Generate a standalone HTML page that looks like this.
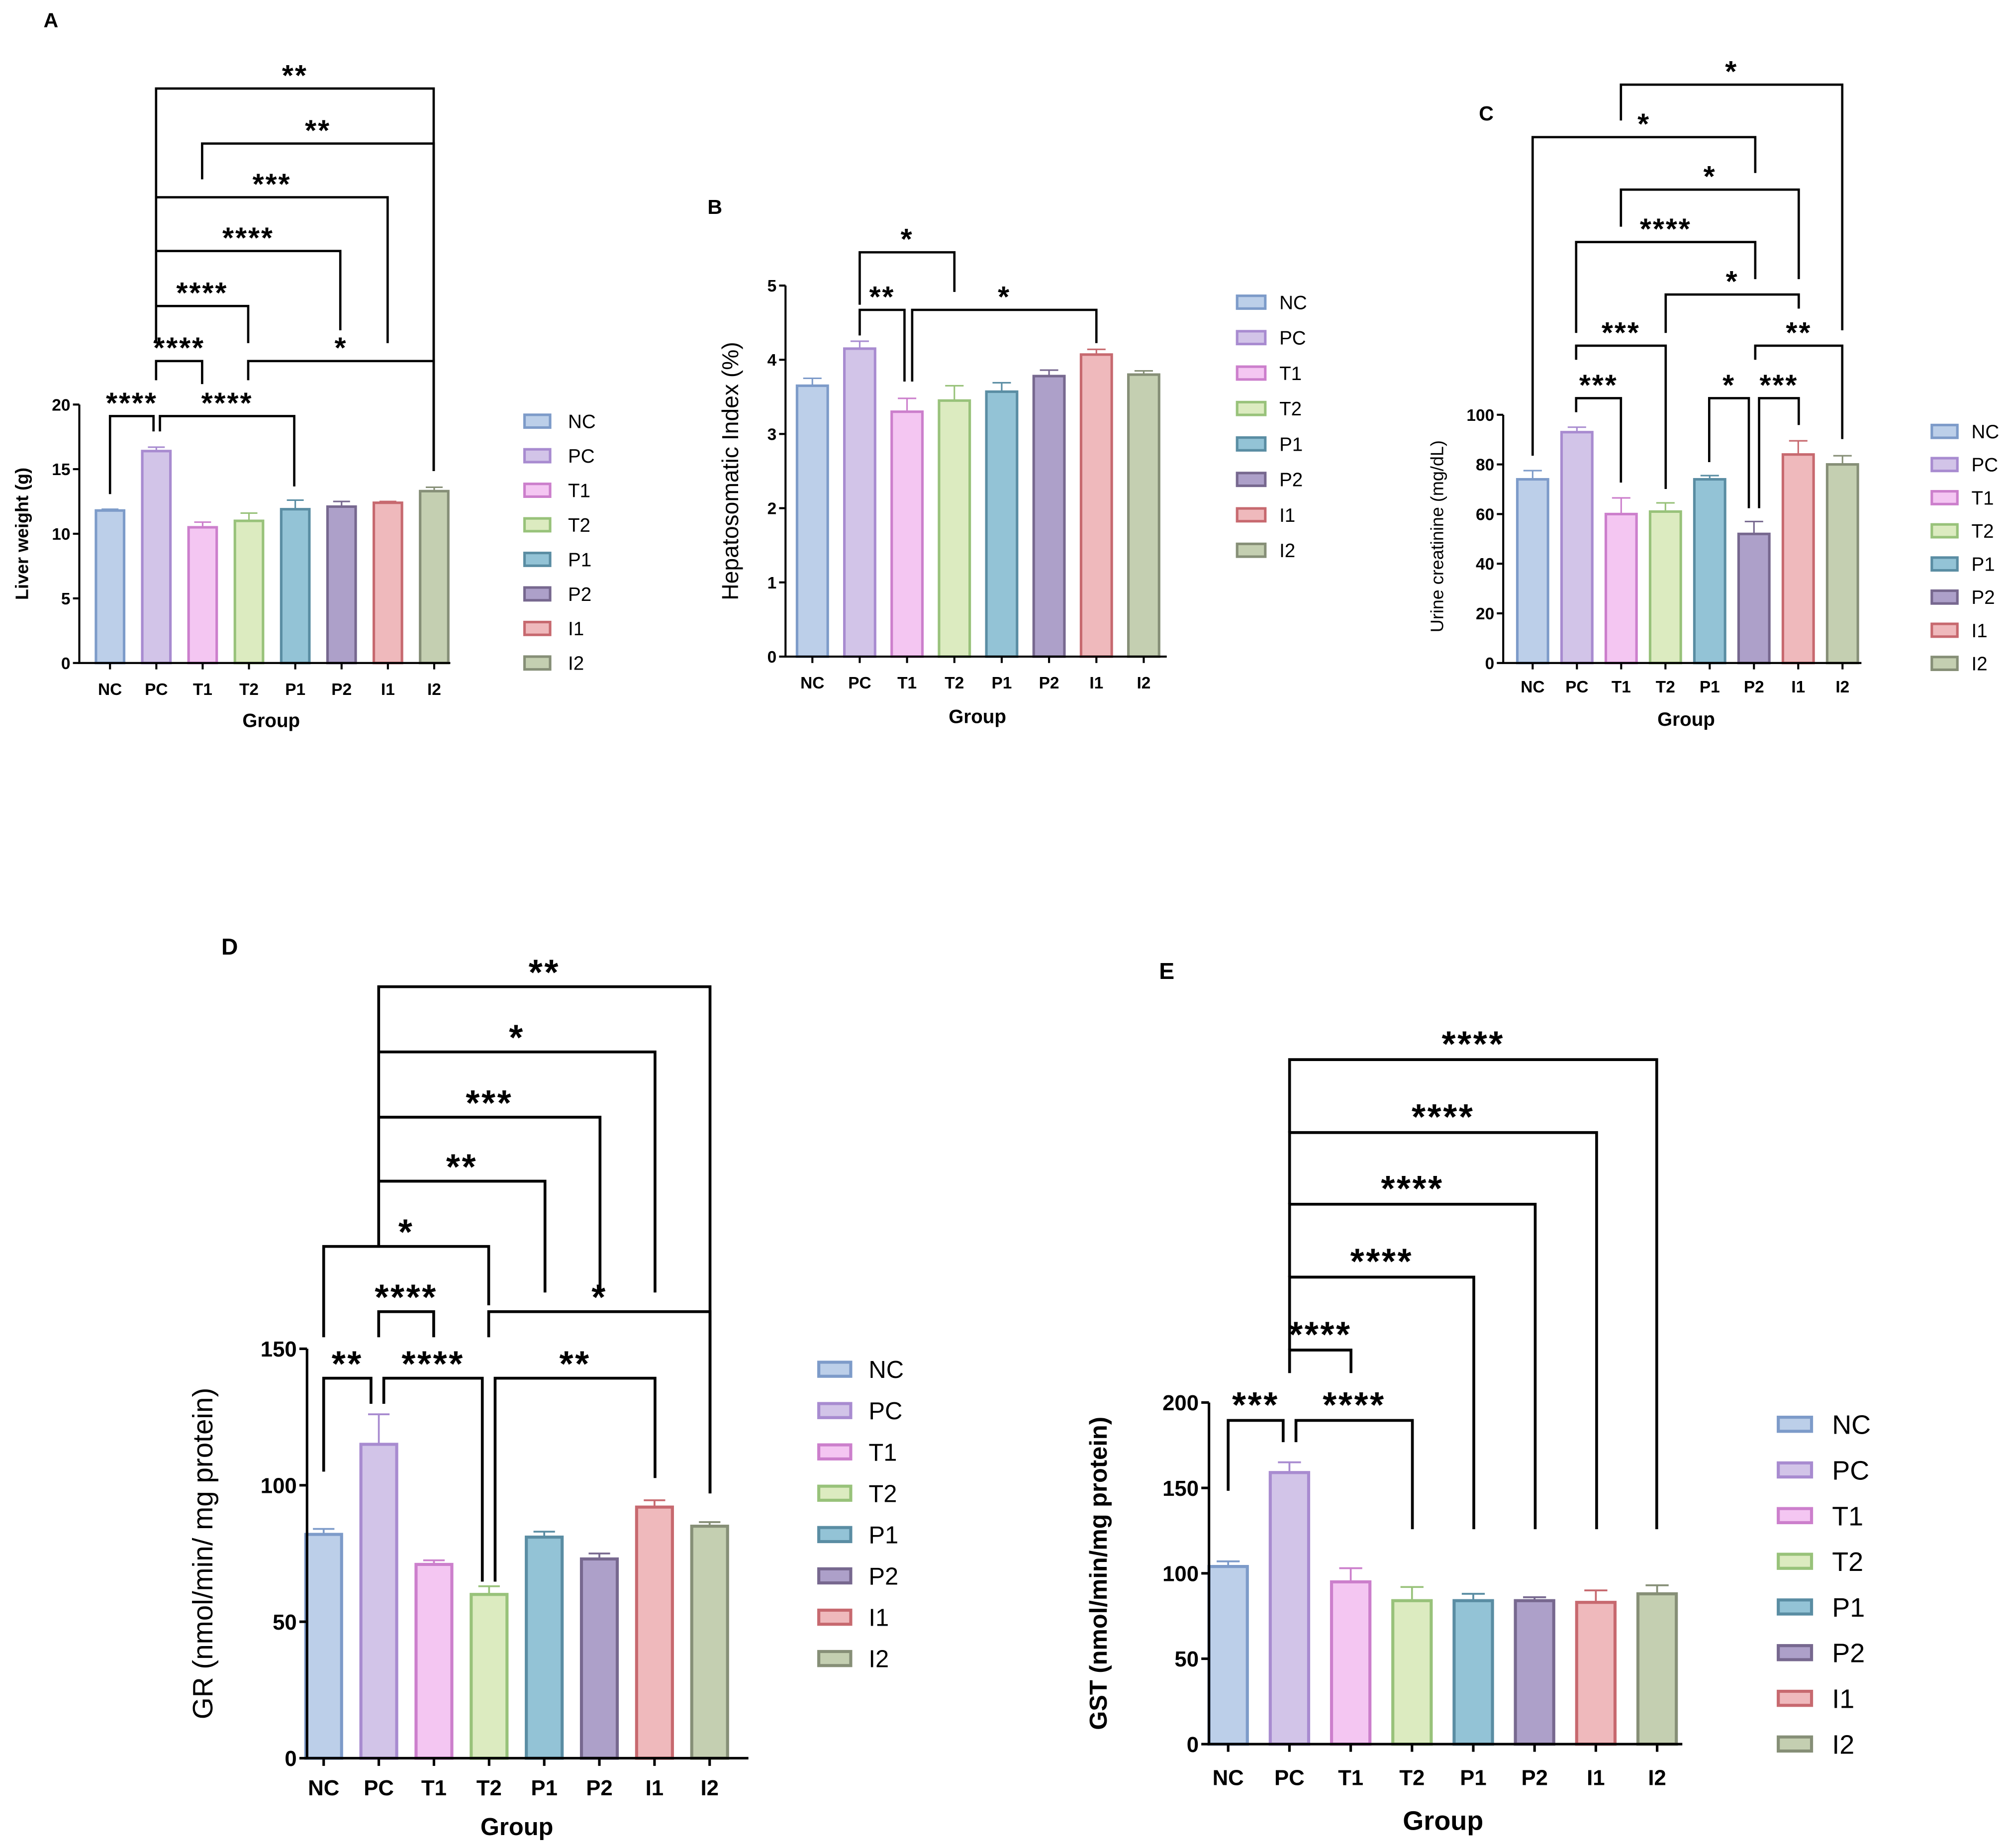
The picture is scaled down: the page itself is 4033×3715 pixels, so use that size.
<!DOCTYPE html>
<html><head><meta charset="utf-8"><style>
html,body{margin:0;padding:0;background:#fff}
svg{display:block}
text{font-family:"Liberation Sans",sans-serif;fill:#000}
</style></head><body>
<svg id="fig" xmlns="http://www.w3.org/2000/svg" width="4033" height="3715" viewBox="0 0 1568 1444"></svg>
<script>
const categories=["NC","PC","T1","T2","P1","P2","I1","I2"];
const fills=["#bccfe9","#d2c4e8","#f4c6f2","#dcebc0","#93c3d6","#ada0c9","#efb9bc","#c4cfb1"];
const strokes=["#7d9bc9","#a88bd0","#cc7fcc","#98c27a","#5a8da3","#77688f","#c7696f","#868f77"];
const aValues=[11.8,16.4,10.5,11.0,11.9,12.1,12.4,13.3];
const aErrors=[0.1,0.3,0.4,0.6,0.7,0.4,0.1,0.3];
const aTicks=[0,5,10,15,20];
const bValues=[3.65,4.15,3.3,3.45,3.57,3.78,4.07,3.8];
const bErrors=[0.1,0.1,0.18,0.2,0.12,0.08,0.07,0.05];
const bTicks=[0,1,2,3,4,5];
const cValues=[74,93,60,61,74,52,84,80];
const cErrors=[3.5,2,6.5,3.5,1.5,5,5.5,3.5];
const cTicks=[0,20,40,60,80,100];
const dValues=[82,115,71,60,81,73,92,85];
const dErrors=[2,11,1.5,3,2,2,2.5,1.5];
const dTicks=[0,50,100,150];
const eValues=[104,159,95,84,84,84,83,88];
const eErrors=[3,6,8,8,4,2,7,5];
const eTicks=[0,50,100,150,200];

const NS="http://www.w3.org/2000/svg";
const svg=document.getElementById('fig');
function mk(tag,attrs,parent,txt){const e=document.createElementNS(NS,tag);for(const k in attrs)e.setAttribute(k,attrs[k]);if(txt!==undefined)e.textContent=txt;(parent||svg).appendChild(e);return e;}

function panel(p){
  const g=mk('g',{});
  
  
  const ymax=p.ticks[p.ticks.length-1];
  const ys=v=>p.y0-(v/ymax)*(p.y0-p.yTop);
  const xs=i=>p.x1+i*p.step;
  const pl=mk('text',{x:p.lx,y:p.ly,'font-size':p.fsL,'font-weight':'bold'},g,p.id);
  
  
  p.values.forEach((v,i)=>{
    const x=xs(i),w=p.bw;
    const eb=mk('path',{d:`M${x} ${ys(v)}V${ys(v+p.errors[i])}M${x-w*0.3} ${ys(v+p.errors[i])}H${x+w*0.3}`,stroke:strokes[i],'stroke-width':p.sw*0.6,fill:'none'},g);
    
    
    const r=mk('rect',{x:x-w/2,y:ys(v),width:w,height:p.y0-ys(v),fill:fills[i],stroke:strokes[i],'stroke-width':p.sw},g);
    
    
  });
  const ax=mk('path',{d:`M${p.ax} ${p.yTop}V${p.y0}H${p.axR}`,stroke:'#000','stroke-width':p.aw,fill:'none'},g);
  
  
  p.ticks.forEach(t=>{
    mk('line',{x1:p.ax-p.tl,x2:p.ax,y1:ys(t),y2:ys(t),stroke:'#000','stroke-width':p.aw},g);
    const tt=mk('text',{x:p.ax-p.tl-2,y:ys(t)+p.fsT*0.36,'font-size':p.fsT,'text-anchor':'end','font-weight':'bold'},g,t);
    
    
  });
  categories.forEach((c,i)=>{
    mk('line',{x1:xs(i),x2:xs(i),y1:p.y0,y2:p.y0+p.tl,stroke:'#000','stroke-width':p.aw},g);
    const tt=mk('text',{x:xs(i),y:p.xly,'font-size':p.fsX,'text-anchor':'middle','font-weight':'bold'},g,c);
    
    
  });
  const xt=mk('text',{x:p.gx,y:p.gy,'font-size':p.fsG,'text-anchor':'middle','font-weight':'bold'},g,'Group');
  
  
  const yc=(p.y0+p.yTop)/2+p.yto;
  const yt=mk('text',{x:p.ytx,y:yc,'font-size':p.fsY,'text-anchor':'middle','font-weight':p.ytBold?'bold':'normal',transform:`rotate(-90 ${p.ytx} ${yc})`},g,p.ytitle);
  
  
  categories.forEach((c,i)=>{
    const y=p.legY+i*p.legStep;
    const lr=mk('rect',{x:p.legX,y:y-p.legH/2,width:p.legW,height:p.legH,fill:fills[i],stroke:strokes[i],'stroke-width':p.sw},g);
    
    
    const lt=mk('text',{x:p.legX+p.legW+p.legGap,y:y+p.fsLeg*0.36,'font-size':p.fsLeg},g,c);
    
    
  });
  p.br.forEach(b=>{
    const [x1,x2,y,yb1,yb2,lab]=b;
    const pa=mk('path',{d:`M${x1} ${yb1}V${y}H${x2}V${yb2}`,stroke:'#000','stroke-width':p.bsw,fill:'none'},g);
    
    
    const st=mk('text',{x:(x1+x2)/2,y:y-p.sOff+p.fsS*0.55,'font-size':p.fsS,'text-anchor':'middle','font-weight':'bold','letter-spacing':p.fsS*0.05},g,lab);
    
    
  });
}

panel({id:'A',lx:34,ly:21,fsL:16,values:aValues,errors:aErrors,ticks:aTicks,y0:518,yTop:316,x1:86,step:36.2,bw:22,sw:2,ax:62,axR:352,aw:1.6,tl:5,fsT:13,fsX:13,xly:543,gx:212,gy:568,fsG:15,ytitle:'Liver weight (g)',ytx:22,yto:0,fsY:14,ytBold:true,
 legX:410,legY:329,legStep:27,legW:20,legH:10,legGap:14,fsLeg:15,bsw:1.8,fsS:23,sOff:15,
 br:[[86,120,325,386,337,'****'],[125,230,325,337,380,'****'],[122,158,282,297,300,'****'],[194,339,282,297,368,'*'],[122,194,239,268,268,'****'],[122,266,196,239,258,'****'],[122,303,154,196,268,'***'],[158,339,112,140,368,'**'],[122,339,69,154,368,'**']]});

panel({id:'B',lx:553,ly:167,fsL:16,values:bValues,errors:bErrors,ticks:bTicks,y0:513,yTop:223,x1:635,step:37,bw:24,sw:2,ax:614,axR:912,aw:1.6,tl:5,fsT:13,fsX:13,xly:538,gx:764,gy:565,fsG:15,ytitle:'Hepatosomatic Index (%)',ytx:577,yto:0,fsY:18,ytBold:false,
 legX:967,legY:236,legStep:27.7,legW:22,legH:10,legGap:11,fsLeg:15,bsw:1.8,fsS:23,sOff:15,
 br:[[672,707,242,262,298,'**'],[713,857,242,298,268,'*'],[672,746,197,238,228,'*']]});

panel({id:'C',lx:1156,ly:94,fsL:16,values:cValues,errors:cErrors,ticks:cTicks,y0:518,yTop:324,x1:1198,step:34.6,bw:24,sw:2,ax:1175,axR:1455,aw:1.6,tl:5,fsT:13,fsX:13,xly:541,gx:1318,gy:567,fsG:15,ytitle:'Urine creatinine (mg/dL)',ytx:1128,yto:-2,fsY:14,ytBold:false,
 legX:1510,legY:337,legStep:25.9,legW:20,legH:10,legGap:11,fsLeg:15,bsw:1.8,fsS:23,sOff:15,
 br:[[1267,1440,66,94,258],[1198,1372,107,356,135],[1267,1406,148,177,218],[1232,1372,189,260,218],[1302,1406,230,260,241],[1232,1302,270,281,382],[1372,1440,270,281,343],[1232,1267,311,322,377],[1336,1367,311,361,397],[1375,1406,311,397,332]].map((b,i)=>b.concat([['*','*','*','****','*','***','**','***','*','***'][i]]))});

panel({id:'D',lx:173,ly:746,fsL:18,values:dValues,errors:dErrors,ticks:dTicks,y0:1374,yTop:1054,x1:253,step:43.1,bw:28,sw:2.4,ax:240,axR:585,aw:2,tl:6,fsT:17,fsX:17,xly:1403,gx:404,gy:1434,fsG:19,ytitle:'GR (nmol/min/ mg protein)',ytx:166,yto:0,fsY:22,ytBold:false,
 legX:640,legY:1070,legStep:32.3,legW:25,legH:11,legGap:14,fsLeg:19,bsw:2.2,fsS:28,sOff:17,
 br:[[253,290,1077,1150,1097,'**'],[300,377,1077,1097,1236,'****'],[387,512,1077,1236,1155,'**'],[296,339,1025,1045,1045,'****'],[382,555,1025,1045,1167,'*'],[253,382,974,1045,1020,'*'],[296,426,923,974,1010,'**'],[296,469,873,923,1010,'***'],[296,512,822,873,1010,'*'],[296,555,771,822,1167,'**']]});

panel({id:'E',lx:906,ly:765,fsL:18,values:eValues,errors:eErrors,ticks:eTicks,y0:1363,yTop:1096,x1:960,step:47.9,bw:30,sw:2.4,ax:945,axR:1315,aw:2,tl:6,fsT:17,fsX:17,xly:1395,gx:1128,gy:1430,fsG:21,ytitle:'GST (nmol/min/mg protein)',ytx:865,yto:0,fsY:19,ytBold:true,
 legX:1390,legY:1113,legStep:35.7,legW:26,legH:11,legGap:16,fsLeg:21,bsw:2.2,fsS:28,sOff:18,
 br:[[960,1003,1110,1165,1127,'***'],[1013,1104,1110,1127,1195,'****'],[1008,1056,1055,1073,1073,'****'],[1008,1152,998,1055,1195,'****'],[1008,1200,941,998,1195,'****'],[1008,1248,885,941,1195,'****'],[1008,1295,828,885,1195,'****']]});
</script>
</body></html>
